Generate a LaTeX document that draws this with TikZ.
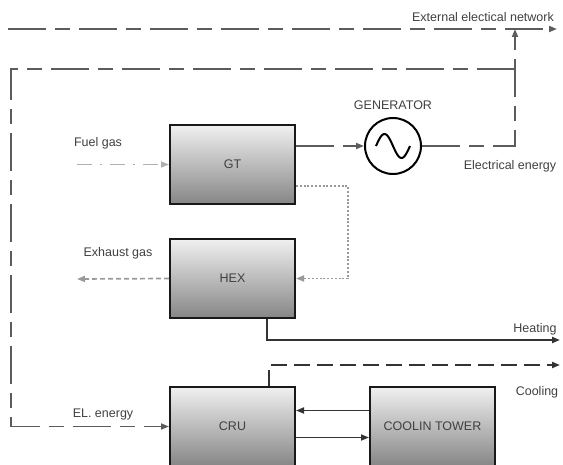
\documentclass[tikz,border=0pt]{standalone}
\usepackage{fontspec}
\setmainfont{Liberation Sans}
\usetikzlibrary{positioning,arrows.meta}
\definecolor{elecGray}{HTML}{5C5C5C}
\definecolor{flowDark}{HTML}{333333}
\definecolor{fuelGray}{HTML}{AFAFAF}
\definecolor{gasGray}{HTML}{999999}
\definecolor{boxTop}{HTML}{F0F0F0}
\definecolor{boxBottom}{HTML}{868686}

\begin{document}
\begin{tikzpicture}[x=1pt, y=-1pt, >={Triangle[length=8pt,width=6pt]},
  every node/.style={font=\fontsize{12.5}{14}\selectfont, text=black!75},
  unit/.style={draw=black!90, line width=2pt, top color=boxTop, bottom color=boxBottom, minimum width=125pt, minimum height=79pt},
  elec/.style={color=elecGray, line width=1.7pt, dash pattern=on 38pt off 9pt on 15pt off 9pt},
  fuel/.style={color=fuelGray, line width=1.5pt, dash pattern=on 15pt off 8pt on 2pt off 8pt},
  gas/.style={color=gasGray, line width=1.8pt, dash pattern=on 2pt off 1.8pt},
  exhaust/.style={color=gasGray, line width=1.7pt, dash pattern=on 5pt off 3pt},
  heat/.style={color=flowDark, line width=2pt},
  cool/.style={color=flowDark, line width=2pt, dash pattern=on 16pt off 7pt},
  link/.style={color=flowDark, line width=1.7pt}]
  \useasboundingbox (0,0) rectangle (563,465);

  % units
  \node[unit] (gt) at (232.5,164.5) {GT};
  \node[unit, below=33pt of gt] (hex) {HEX};
  \node[unit, below=67pt of hex] (cru) {CRU};
  \node[unit, right=73pt of cru] (tower) {COOLIN TOWER};
  \node[draw, circle, line width=2pt, minimum size=56pt, inner sep=0pt] (gen) at (393,146) {};
  \draw[line width=2pt, shift={(gen.center)}] plot[domain=0:360, samples=50, smooth] ({-17+\x*34/360}, {-12*sin(\x)});
  \node[above=4pt of gen] (genlabel) {GENERATOR};

  % labels
  \node (netlabel) at (483,17) {External electical network};
  \node (elenlabel) at (510,166) {Electrical energy};
  \node (fuellabel) at (98,143) {Fuel gas};
  \node (exhlabel) at (118,253) {Exhaust gas};
  \node (heatlabel) at (535,329) {Heating};
  \node (coollabel) at (537,392) {Cooling};
  \node (crulabel) at (103,414) {EL. energy};

  \coordinate (netW) at (8,29);
  \coordinate (netE) at (557,29);
  \coordinate (netJ) at (515,29);
  \coordinate (busE) at (515,69);
  \coordinate (busW) at (11,69);
  \coordinate (fuelin) at (77,164.5);
  \coordinate (exhout) at (77,279);
  \coordinate (gasturn) at (348,186);
  \coordinate (heatout) at (560,340);
  \coordinate (coolout) at (560,365);

  % flows
  \draw[elec, ->] (netW) -- (netE);
  \draw[elec, ->] (gen.east) -| (netJ);
  \draw[elec, ->] (busE) -- (busW) |- (cru.west);
  \draw[elec, ->] (gt.east |- gen.west) -- (gen.west);
  \draw[fuel, ->] (fuelin) -- (gt.west);
  \draw[gas, ->] ([yshift=-21.5pt]gt.east) -- (gasturn) |- (hex.east);
  \draw[exhaust, ->] (hex.west) -- (exhout);
  \draw[heat, ->] ([xshift=34pt]hex.south) |- (heatout);
  \draw[cool, ->] ([xshift=36pt]cru.north) |- (coolout);
  \draw[link, ->] ([yshift=16pt]tower.west) -- ([yshift=16pt]cru.east);
  \draw[link, ->] ([yshift=-11pt]cru.east) -- ([yshift=-11pt]tower.west);
\end{tikzpicture}
\end{document}
